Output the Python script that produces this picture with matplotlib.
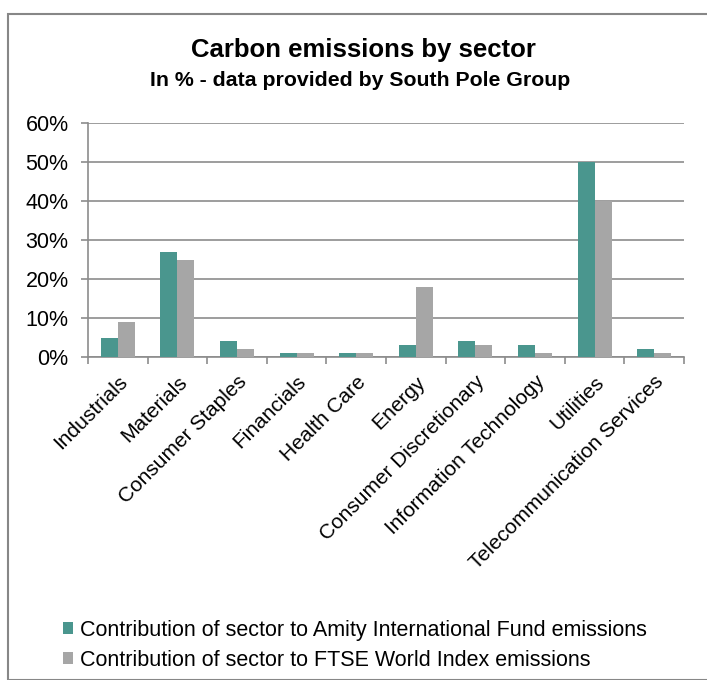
import matplotlib
matplotlib.use("Agg")
import matplotlib.pyplot as plt
import numpy as np
from matplotlib.patches import Rectangle
from matplotlib.ticker import FixedLocator, FuncFormatter

categories = ["Industrials", "Materials", "Consumer Staples", "Financials", "Health Care",
              "Energy", "Consumer Discretionary", "Information Technology", "Utilities",
              "Telecommunication Services"]
fund = [5, 27, 4, 1, 1, 3, 4, 3, 50, 2]
ftse = [9, 25, 2, 1, 1, 18, 3, 1, 40, 1]
series_names = ["Contribution of sector to Amity International Fund emissions",
                "Contribution of sector to FTSE World Index emissions"]
yticks = [0, 10, 20, 30, 40, 50, 60]

teal = "#4A968E"
grey = "#A6A6A6"
gridc = "#8C8C8C"

plt.rcParams['font.family'] = ['Liberation Sans', 'DejaVu Sans']

W, H = 707, 680
fig = plt.figure(figsize=(W/100, H/100), dpi=100)
fig.patch.set_facecolor("white")

# chart border
fig.patches.append(Rectangle((7.5/W, 0), 1.2, 1 - 13.5/H, transform=fig.transFigure,
                             fill=False, edgecolor="#878787", linewidth=1.5))

ax = fig.add_axes([88/W, 1 - 357/H, (684-88)/W, (357-123)/H])
x = np.arange(len(categories)) + 0.5
bw = 0.285
ax.bar(x - bw/2, fund, width=bw, color=teal, label=series_names[0], zorder=3)
ax.bar(x + bw/2, ftse, width=bw, color=grey, label=series_names[1], zorder=3)

ax.set_xlim(0, len(categories))
ax.set_ylim(0, 60)
ax.yaxis.set_major_locator(FixedLocator(yticks))
ax.yaxis.set_major_formatter(FuncFormatter(lambda v, p: f"{int(v)}%"))
ax.grid(axis="y", color=gridc, linewidth=1.2, zorder=0)
for s in ["top", "right"]:
    ax.spines[s].set_visible(False)
for s in ["left", "bottom"]:
    ax.spines[s].set_color(gridc)
    ax.spines[s].set_linewidth(1.2)

ax.xaxis.set_major_locator(FixedLocator(np.arange(len(categories) + 1)))
ax.xaxis.set_major_formatter(FuncFormatter(lambda v, p: ""))
ax.xaxis.set_minor_locator(FixedLocator(x))
ax.set_xticklabels(categories, minor=True, rotation=45, ha="right", rotation_mode="anchor",
                   fontsize=15)
ax.tick_params(axis="x", which="major", direction="out", length=5, color=gridc, width=1.2)
ax.tick_params(axis="x", which="minor", length=0, pad=11)
ax.tick_params(axis="y", direction="out", length=5, color=gridc, width=1.2, labelsize=15.5, pad=9)

fig.text(363/W, 1 - 50/H, "Carbon emissions by sector", ha="center", va="center",
         fontsize=18.5, fontweight="bold")
fig.text(360/W, 1 - 80/H, "In % - data provided by South Pole Group", ha="center", va="center",
         fontsize=15.3, fontweight="bold")

leg = fig.legend(loc="upper left", bbox_to_anchor=(54/W, 1 - 611/H), frameon=False,
                 fontsize=15.5, handlelength=0.5, handleheight=0.5, handletextpad=0.3,
                 labelspacing=0.42, borderaxespad=0)

fig.savefig("out.png", dpi=100, facecolor="white")
